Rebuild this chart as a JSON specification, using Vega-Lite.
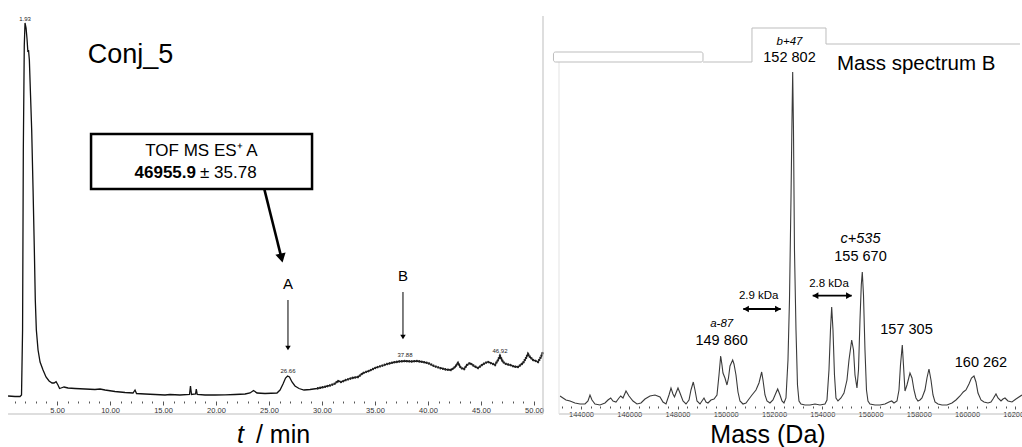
{
"$schema": "https://vega.github.io/schema/vega-lite/v6.json",
"padding": 0,
"bounds": "flush",
"spacing": 10,
"background": "white",
"config": {"view": {"stroke": null}, "font": "Liberation Sans", "text": {"font": "Liberation Sans", "color": "black"}},
"datasets": {
"chrom": [
{"t":0.38,"v":18},{"t":1.04,"v":17.5},{"t":1.51,"v":17.5},{"t":1.65,"v":19},{"t":1.75,"v":84},{"t":1.82,"v":264},{"t":1.91,"v":368},{"t":1.98,"v":391},{"t":2.08,"v":386},{"t":2.17,"v":375},{"t":2.25,"v":362},{"t":2.31,"v":364},{"t":2.39,"v":354},{"t":2.50,"v":319},{"t":2.61,"v":284},{"t":2.74,"v":224},{"t":2.86,"v":164},{"t":2.95,"v":114},{"t":3.05,"v":84},{"t":3.21,"v":64},{"t":3.40,"v":52},{"t":3.68,"v":44},{"t":3.96,"v":37},{"t":4.25,"v":33},{"t":4.53,"v":31},{"t":4.72,"v":31},{"t":4.91,"v":32.3},{"t":5.09,"v":29},{"t":5.24,"v":25.5},{"t":5.38,"v":26},{"t":5.66,"v":27},{"t":6.04,"v":26},{"t":6.70,"v":25.5},{"t":7.64,"v":25},{"t":8.58,"v":24.5},{"t":9.06,"v":25},{"t":9.53,"v":24},{"t":10.47,"v":22.5},{"t":11.42,"v":21.5},{"t":12.17,"v":21},{"t":12.36,"v":24},{"t":12.50,"v":20.5},{"t":13.30,"v":20},{"t":14.25,"v":19.5},{"t":15.19,"v":19},{"t":15.66,"v":19.5},{"t":16.60,"v":19},{"t":17.50,"v":19.5},{"t":17.59,"v":28},{"t":17.69,"v":19.5},{"t":18.07,"v":20},{"t":18.14,"v":25},{"t":18.23,"v":19.5},{"t":18.96,"v":19},{"t":19.91,"v":19},{"t":20.85,"v":19.2},{"t":21.79,"v":19.5},{"t":22.74,"v":20},{"t":23.21,"v":21},{"t":23.54,"v":23.5},{"t":23.87,"v":21},{"t":24.62,"v":20.5},{"t":25.75,"v":21},{"t":26.04,"v":24},{"t":26.32,"v":30},{"t":26.56,"v":36},{"t":26.75,"v":38},{"t":26.93,"v":37},{"t":27.17,"v":32},{"t":27.45,"v":28},{"t":27.83,"v":25.5},{"t":28.30,"v":24},{"t":28.87,"v":24.5},{"t":29.53,"v":25.5},{"t":30.19,"v":27},{"t":30.75,"v":28.5},{"t":31.23,"v":30.5},{"t":31.51,"v":33},{"t":31.79,"v":32},{"t":32.26,"v":34},{"t":32.83,"v":36},{"t":33.40,"v":37},{"t":33.87,"v":41},{"t":34.43,"v":43},{"t":35.00,"v":46},{"t":35.57,"v":48},{"t":36.13,"v":50},{"t":36.70,"v":51.5},{"t":37.26,"v":52.5},{"t":37.83,"v":53},{"t":38.40,"v":52.5},{"t":38.96,"v":53},{"t":39.53,"v":52},{"t":40.00,"v":51},{"t":40.57,"v":48},{"t":41.13,"v":46},{"t":41.70,"v":44.5},{"t":42.17,"v":44},{"t":42.55,"v":47},{"t":42.83,"v":51},{"t":43.11,"v":46},{"t":43.40,"v":45},{"t":43.68,"v":49},{"t":43.96,"v":51},{"t":44.34,"v":48},{"t":44.72,"v":46},{"t":45.09,"v":49},{"t":45.38,"v":51},{"t":45.66,"v":52},{"t":46.04,"v":50.5},{"t":46.32,"v":49},{"t":46.60,"v":54},{"t":46.79,"v":58},{"t":47.08,"v":52},{"t":47.36,"v":50},{"t":47.74,"v":49},{"t":48.11,"v":47.5},{"t":48.49,"v":47},{"t":48.96,"v":51},{"t":49.25,"v":56},{"t":49.43,"v":60},{"t":49.62,"v":57},{"t":49.91,"v":54},{"t":50.19,"v":53},{"t":50.38,"v":52},{"t":50.66,"v":57},{"t":50.85,"v":62}
],
"lframe": [{"x1":0.38,"y1":0,"x2":50.85,"y2":0},{"x1":50.85,"y1":0,"x2":50.85,"y2":398}],
"lbox": [{"x1":8.21,"x2":29.06,"y1":280,"y2":225}],
"ltof": [{"t":18.63,"v":258,"label":"TOF MS ES⁺ A"}],
"lbold": [{"t":18.11,"v":236.3,"label":"46955.9"}],
"lpm": [{"t":18.49,"v":236.3,"label":"± 35.78"}],
"lconj": [{"t":11.93,"v":350.7,"label":"Conj_5"}],
"lAB": [{"t":26.79,"v":125,"label":"A"},{"t":37.64,"v":133,"label":"B"}],
"lthick": [{"x1":24.56,"y1":224.7,"x2":26.13,"y2":158}],
"lthickhead": [{"t":26.18,"v":156}],
"lthin": [{"x1":26.79,"y1":114,"x2":26.79,"y2":67},{"x1":37.64,"y1":122,"x2":37.64,"y2":78}],
"lthinhead": [{"t":26.79,"v":66},{"t":37.64,"v":77}],
"lpeaks": [{"t":1.98,"v":395,"label":"1.93"},{"t":26.79,"v":43,"label":"26.66"},{"t":37.83,"v":59,"label":"37.88"},{"t":46.79,"v":63,"label":"46.92"}],
"ltitle": [{"t":22.3,"v":-29,"label":"t"}],
"ltitle2": [{"t":23.77,"v":-29,"label":"/ min"}],
"spec": [
{"m":143130,"v":18},{"m":143254,"v":16},{"m":143378,"v":14},{"m":143544,"v":13},{"m":143751,"v":11},{"m":143959,"v":10},{"m":144166,"v":10},{"m":144290,"v":13},{"m":144373,"v":19},{"m":144456,"v":14},{"m":144580,"v":10},{"m":144787,"v":9},{"m":144995,"v":11},{"m":145119,"v":14},{"m":145231,"v":16},{"m":145326,"v":13},{"m":145450,"v":12},{"m":145575,"v":16},{"m":145645,"v":18},{"m":145740,"v":16},{"m":145865,"v":23},{"m":145989,"v":18},{"m":146155,"v":13},{"m":146321,"v":10},{"m":146486,"v":11},{"m":146652,"v":15},{"m":146859,"v":18},{"m":147067,"v":19},{"m":147274,"v":17},{"m":147398,"v":12},{"m":147522,"v":10},{"m":147647,"v":19},{"m":147730,"v":26},{"m":147812,"v":20},{"m":147875,"v":17},{"m":147937,"v":21},{"m":148020,"v":26},{"m":148103,"v":21},{"m":148227,"v":13},{"m":148351,"v":10},{"m":148476,"v":14},{"m":148558,"v":24},{"m":148654,"v":32},{"m":148724,"v":24},{"m":148807,"v":13},{"m":148931,"v":10},{"m":149014,"v":13},{"m":149097,"v":16},{"m":149180,"v":12},{"m":149263,"v":11},{"m":149387,"v":14},{"m":149512,"v":15},{"m":149636,"v":19},{"m":149719,"v":39},{"m":149789,"v":58},{"m":149843,"v":49},{"m":149884,"v":41},{"m":149967,"v":36},{"m":150050,"v":29},{"m":150112,"v":36},{"m":150175,"v":48},{"m":150286,"v":54},{"m":150340,"v":50},{"m":150423,"v":39},{"m":150506,"v":22},{"m":150589,"v":13},{"m":150713,"v":10},{"m":150838,"v":11},{"m":150962,"v":15},{"m":151086,"v":19},{"m":151252,"v":24},{"m":151376,"v":31},{"m":151488,"v":42},{"m":151542,"v":34},{"m":151625,"v":19},{"m":151708,"v":13},{"m":151832,"v":11},{"m":151956,"v":14},{"m":152060,"v":20},{"m":152151,"v":25},{"m":152247,"v":19},{"m":152329,"v":13},{"m":152412,"v":11},{"m":152495,"v":16},{"m":152578,"v":54},{"m":152640,"v":114},{"m":152702,"v":214},{"m":152744,"v":294},{"m":152773,"v":342},{"m":152806,"v":284},{"m":152847,"v":164},{"m":152910,"v":84},{"m":152972,"v":29},{"m":153034,"v":13},{"m":153117,"v":10},{"m":153283,"v":9},{"m":153490,"v":9},{"m":153697,"v":10},{"m":153904,"v":9},{"m":154111,"v":10},{"m":154194,"v":14},{"m":154277,"v":44},{"m":154339,"v":84},{"m":154389,"v":107},{"m":154443,"v":84},{"m":154505,"v":39},{"m":154567,"v":16},{"m":154650,"v":13},{"m":154774,"v":16},{"m":154899,"v":21},{"m":155023,"v":34},{"m":155106,"v":54},{"m":155218,"v":74},{"m":155293,"v":64},{"m":155355,"v":39},{"m":155437,"v":26},{"m":155500,"v":44},{"m":155562,"v":94},{"m":155616,"v":129},{"m":155657,"v":142},{"m":155707,"v":119},{"m":155769,"v":64},{"m":155831,"v":24},{"m":155893,"v":13},{"m":155976,"v":10},{"m":156183,"v":9},{"m":156391,"v":9},{"m":156598,"v":10},{"m":156764,"v":12},{"m":156876,"v":13},{"m":156971,"v":11},{"m":157095,"v":13},{"m":157178,"v":24},{"m":157240,"v":49},{"m":157315,"v":69},{"m":157364,"v":49},{"m":157427,"v":23},{"m":157509,"v":29},{"m":157634,"v":41},{"m":157717,"v":36},{"m":157800,"v":24},{"m":157882,"v":16},{"m":157965,"v":13},{"m":158048,"v":14},{"m":158131,"v":16},{"m":158255,"v":24},{"m":158338,"v":36},{"m":158421,"v":45},{"m":158504,"v":34},{"m":158587,"v":19},{"m":158670,"v":12},{"m":158794,"v":10},{"m":158960,"v":9},{"m":159167,"v":9},{"m":159374,"v":11},{"m":159540,"v":14},{"m":159706,"v":18},{"m":159843,"v":22},{"m":159954,"v":24},{"m":160079,"v":30},{"m":160182,"v":36},{"m":160286,"v":38},{"m":160369,"v":32},{"m":160452,"v":21},{"m":160576,"v":14},{"m":160700,"v":12},{"m":160866,"v":11},{"m":160990,"v":12},{"m":161073,"v":15},{"m":161198,"v":20},{"m":161280,"v":16},{"m":161405,"v":13},{"m":161488,"v":15},{"m":161571,"v":16},{"m":161695,"v":13},{"m":161861,"v":12},{"m":162026,"v":15},{"m":162151,"v":17},{"m":162275,"v":19}
],
"rframe": [
{"x1":149056,"y1":352,"x2":151086,"y2":352},{"x1":151086,"y1":352,"x2":151086,"y2":386},{"x1":151086,"y1":386,"x2":154153,"y2":386},{"x1":154153,"y1":386,"x2":154153,"y2":370},{"x1":154153,"y1":370,"x2":162192,"y2":370},{"x1":143088,"y1":0,"x2":162276,"y2":0}
],
"rinner": [{"x1":143088,"y1":352,"x2":143088,"y2":0}],
"rrect": [{"x1":142860,"x2":149056,"y1":362,"y2":352}],
"ritalic": [{"m":152640,"v":369,"label":"b+47"},{"m":149831,"v":86.7,"label":"a-87"}],
"ritalic2": [{"m":155583,"v":170.7,"label":"c+535"}],
"rnums": [{"m":152640,"v":351.7,"label":"152 802"},{"m":149831,"v":69,"label":"149 860"},{"m":155583,"v":153,"label":"155 670"},{"m":157489,"v":80,"label":"157 305"},{"m":160576,"v":47.3,"label":"160 262"}],
"rkda": [{"m":151364,"v":114.7,"label":"2.9 kDa"},{"m":154277,"v":126.7,"label":"2.8 kDa"}],
"rarrows": [{"x1":150726,"x2":152276,"y1":105,"y2":105},{"x1":153602,"x2":155218,"y1":118.3,"y2":118.3}],
"rheadL": [{"m":150838,"v":105},{"m":153718,"v":118.3}],
"rheadR": [{"m":152164,"v":105},{"m":155106,"v":118.3}],
"rmsb": [{"m":154609,"v":344,"label":"Mass spectrum B"}],
"rmass": [{"m":151749,"v":-29,"label":"Mass (Da)"}]
},
"hconcat": [
{
"width": 543, "height": 414,
"encoding": {
  "x": {"type": "quantitative", "scale": {"domain": [-0.38, 50.85], "nice": false, "zero": false},
   "axis": {"values": [1,2,3,4,5,6,7,8,9,10,11,12,13,14,15,16,17,18,19,20,21,22,23,24,25,26,27,28,29,30,31,32,33,34,35,36,37,38,39,40,41,42,43,44,45,46,47,48,49,50],
    "labelExpr": "datum.value % 5 === 0 ? format(datum.value, '.2f') : ''",
    "domain": false, "grid": false, "title": null, "offset": -13,
    "tickColor": "#555555", "tickSize": {"condition": {"test": "datum.value % 5 === 0", "value": 4}, "value": 2},
    "labelFontSize": 7.5, "labelPadding": 1, "labelColor": "#333333", "labelOverlap": false, "labelFlush": false, "labelFont": "Liberation Sans"}},
  "y": {"type": "quantitative", "scale": {"domain": [0, 414], "nice": false, "zero": false}, "axis": null}
},
"layer": [
{"data": {"name": "chrom"}, "mark": {"type": "line", "color": "#111111", "strokeWidth": 1.3},
 "encoding": {"x": {"field": "t"}, "y": {"field": "v"}}},
{"data": {"name": "chrom"}, "transform": [{"filter": "datum.t >= 29"}], "mark": {"type": "line", "color": "#222222", "strokeWidth": 2.4, "strokeDash": [1.5, 1]},
 "encoding": {"x": {"field": "t"}, "y": {"field": "v"}}},
{"data": {"name": "lframe"}, "mark": {"type": "rule", "color": "#bdbdbd", "strokeWidth": 1},
 "encoding": {"x": {"field": "x1"}, "y": {"field": "y1"}, "x2": {"field": "x2"}, "y2": {"field": "y2"}}},
{"data": {"name": "lbox"}, "mark": {"type": "rect", "fill": "white", "stroke": "black", "strokeWidth": 2.5},
 "encoding": {"x": {"field": "x1"}, "y": {"field": "y1"}, "x2": {"field": "x2"}, "y2": {"field": "y2"}}},
{"data": {"name": "ltof"}, "mark": {"type": "text", "fontSize": 17, "align": "center", "baseline": "alphabetic"},
 "encoding": {"x": {"field": "t"}, "y": {"field": "v"}, "text": {"field": "label"}}},
{"data": {"name": "lbold"}, "mark": {"type": "text", "fontSize": 17, "fontWeight": "bold", "align": "right", "baseline": "alphabetic"},
 "encoding": {"x": {"field": "t"}, "y": {"field": "v"}, "text": {"field": "label"}}},
{"data": {"name": "lpm"}, "mark": {"type": "text", "fontSize": 17, "align": "left", "baseline": "alphabetic"},
 "encoding": {"x": {"field": "t"}, "y": {"field": "v"}, "text": {"field": "label"}}},
{"data": {"name": "lconj"}, "mark": {"type": "text", "fontSize": 27, "align": "center", "baseline": "alphabetic"},
 "encoding": {"x": {"field": "t"}, "y": {"field": "v"}, "text": {"field": "label"}}},
{"data": {"name": "lAB"}, "mark": {"type": "text", "fontSize": 15, "align": "center", "baseline": "alphabetic"},
 "encoding": {"x": {"field": "t"}, "y": {"field": "v"}, "text": {"field": "label"}}},
{"data": {"name": "lthick"}, "mark": {"type": "rule", "color": "black", "strokeWidth": 2.6},
 "encoding": {"x": {"field": "x1"}, "y": {"field": "y1"}, "x2": {"field": "x2"}, "y2": {"field": "y2"}}},
{"data": {"name": "lthickhead"}, "mark": {"type": "point", "shape": "triangle-down", "filled": true, "color": "black", "opacity": 1, "size": 110, "angle": 347},
 "encoding": {"x": {"field": "t"}, "y": {"field": "v"}}},
{"data": {"name": "lthin"}, "mark": {"type": "rule", "color": "black", "strokeWidth": 1},
 "encoding": {"x": {"field": "x1"}, "y": {"field": "y1"}, "x2": {"field": "x2"}, "y2": {"field": "y2"}}},
{"data": {"name": "lthinhead"}, "mark": {"type": "point", "shape": "triangle-down", "filled": true, "color": "black", "opacity": 1, "size": 30},
 "encoding": {"x": {"field": "t"}, "y": {"field": "v"}}},
{"data": {"name": "lpeaks"}, "mark": {"type": "text", "fontSize": 6, "align": "center", "baseline": "middle", "color": "#222222"},
 "encoding": {"x": {"field": "t"}, "y": {"field": "v"}, "text": {"field": "label"}}},
{"data": {"name": "ltitle"}, "mark": {"type": "text", "fontSize": 25, "fontStyle": "italic", "align": "center", "baseline": "alphabetic"},
 "encoding": {"x": {"field": "t"}, "y": {"field": "v"}, "text": {"field": "label"}}},
{"data": {"name": "ltitle2"}, "mark": {"type": "text", "fontSize": 25, "align": "left", "baseline": "alphabetic"},
 "encoding": {"x": {"field": "t"}, "y": {"field": "v"}, "text": {"field": "label"}}}
]
},
{
"width": 469, "height": 414,
"encoding": {
  "x": {"type": "quantitative", "scale": {"domain": [142840, 162276], "nice": false, "zero": false},
   "axis": {"values": [143200,143600,144000,144400,144800,145200,145600,146000,146400,146800,147200,147600,148000,148400,148800,149200,149600,150000,150400,150800,151200,151600,152000,152400,152800,153200,153600,154000,154400,154800,155200,155600,156000,156400,156800,157200,157600,158000,158400,158800,159200,159600,160000,160400,160800,161200,161600,162000],
    "labelExpr": "datum.value % 2000 === 0 ? '' + datum.value : ''",
    "domain": false, "grid": false, "title": null, "offset": -8,
    "tickColor": "#555555", "tickSize": {"condition": {"test": "datum.value % 2000 === 0", "value": 3}, "value": 2},
    "labelFontSize": 7.5, "labelPadding": 1, "labelColor": "#333333", "labelOverlap": false, "labelFlush": false, "labelFont": "Liberation Sans"}},
  "y": {"type": "quantitative", "scale": {"domain": [0, 414], "nice": false, "zero": false}, "axis": null}
},
"layer": [
{"data": {"name": "spec"}, "mark": {"type": "line", "color": "#3a3a3a", "strokeWidth": 1.1},
 "encoding": {"x": {"field": "m"}, "y": {"field": "v"}}},
{"data": {"name": "rframe"}, "mark": {"type": "rule", "color": "#bdbdbd", "strokeWidth": 1},
 "encoding": {"x": {"field": "x1"}, "y": {"field": "y1"}, "x2": {"field": "x2"}, "y2": {"field": "y2"}}},
{"data": {"name": "rinner"}, "mark": {"type": "rule", "color": "#e3e3e3", "strokeWidth": 1},
 "encoding": {"x": {"field": "x1"}, "y": {"field": "y1"}, "x2": {"field": "x2"}, "y2": {"field": "y2"}}},
{"data": {"name": "rrect"}, "mark": {"type": "rect", "fill": "white", "stroke": "#bdbdbd", "strokeWidth": 1, "cornerRadius": 2},
 "encoding": {"x": {"field": "x1"}, "y": {"field": "y1"}, "x2": {"field": "x2"}, "y2": {"field": "y2"}}},
{"data": {"name": "ritalic"}, "mark": {"type": "text", "fontSize": 11.5, "fontStyle": "italic", "align": "center", "baseline": "alphabetic"},
 "encoding": {"x": {"field": "m"}, "y": {"field": "v"}, "text": {"field": "label"}}},
{"data": {"name": "ritalic2"}, "mark": {"type": "text", "fontSize": 14.5, "fontStyle": "italic", "align": "center", "baseline": "alphabetic"},
 "encoding": {"x": {"field": "m"}, "y": {"field": "v"}, "text": {"field": "label"}}},
{"data": {"name": "rnums"}, "mark": {"type": "text", "fontSize": 14.5, "align": "center", "baseline": "alphabetic"},
 "encoding": {"x": {"field": "m"}, "y": {"field": "v"}, "text": {"field": "label"}}},
{"data": {"name": "rkda"}, "mark": {"type": "text", "fontSize": 11.5, "align": "center", "baseline": "alphabetic"},
 "encoding": {"x": {"field": "m"}, "y": {"field": "v"}, "text": {"field": "label"}}},
{"data": {"name": "rarrows"}, "mark": {"type": "rule", "color": "black", "strokeWidth": 1.8},
 "encoding": {"x": {"field": "x1"}, "y": {"field": "y1"}, "x2": {"field": "x2"}, "y2": {"field": "y2"}}},
{"data": {"name": "rheadL"}, "mark": {"type": "point", "shape": "triangle-left", "filled": true, "color": "black", "opacity": 1, "size": 45},
 "encoding": {"x": {"field": "m"}, "y": {"field": "v"}}},
{"data": {"name": "rheadR"}, "mark": {"type": "point", "shape": "triangle-right", "filled": true, "color": "black", "opacity": 1, "size": 45},
 "encoding": {"x": {"field": "m"}, "y": {"field": "v"}}},
{"data": {"name": "rmsb"}, "mark": {"type": "text", "fontSize": 20.5, "align": "left", "baseline": "alphabetic"},
 "encoding": {"x": {"field": "m"}, "y": {"field": "v"}, "text": {"field": "label"}}},
{"data": {"name": "rmass"}, "mark": {"type": "text", "fontSize": 25, "align": "center", "baseline": "alphabetic"},
 "encoding": {"x": {"field": "m"}, "y": {"field": "v"}, "text": {"field": "label"}}}
]
}
]
}
